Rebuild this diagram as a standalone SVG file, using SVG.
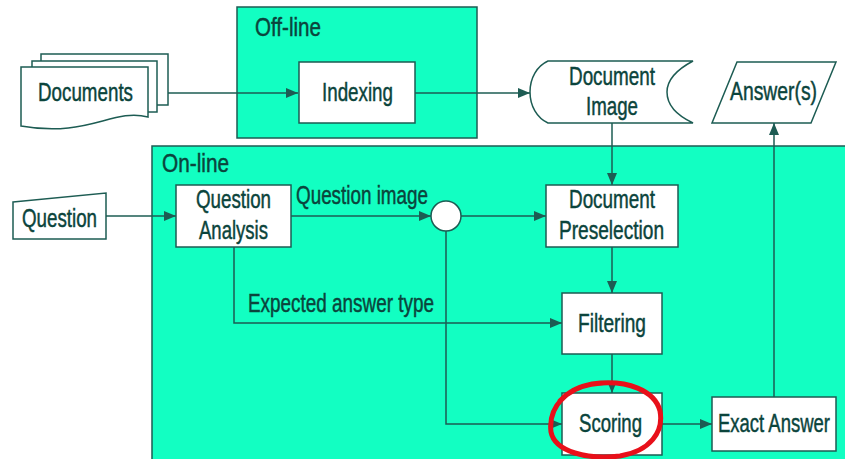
<svg xmlns="http://www.w3.org/2000/svg" width="845" height="459" viewBox="0 0 845 459">
  <style>
    .zone { fill: #12ffc2; stroke: #1d5c53; stroke-width: 1.5; }
    .box { fill: #ffffff; stroke: #1d5c53; stroke-width: 1.5; }
    .lbl { font-family: "Liberation Sans", Arial, sans-serif; font-size: 25px; fill: #0b443c; stroke: #0b443c; stroke-width: 0.45; }
    .wire { fill: none; stroke: #1d5c53; stroke-width: 1.5; }
    .mark { fill: none; stroke: #e8101a; stroke-width: 5; stroke-linecap: round; }
  </style>
  <defs>
    <marker id="arrow" viewBox="0 0 12 10" refX="12" refY="5" markerWidth="12" markerHeight="10" markerUnits="userSpaceOnUse" orient="auto">
      <path d="M0,0 L12,5 L0,10 Z" fill="#1d5c53"/>
    </marker>
  </defs>

  <!-- processing zones -->
  <g id="offline">
    <rect class="zone" x="237" y="7" width="240" height="131"/>
    <text class="lbl" x="255" y="36" textLength="66" lengthAdjust="spacingAndGlyphs">Off-line</text>
  </g>
  <g id="online">
    <rect class="zone" x="152" y="146" width="700" height="320"/>
    <text class="lbl" x="162" y="172" textLength="67" lengthAdjust="spacingAndGlyphs">On-line</text>
  </g>

  <!-- connectors -->
  <g id="connectors">
    <path class="wire" d="M168,93 H298" marker-end="url(#arrow)"/>
    <path class="wire" d="M415,93 H530" marker-end="url(#arrow)"/>
    <path class="wire" d="M612,123 V185" marker-end="url(#arrow)"/>
    <path class="wire" d="M106,216 H176" marker-end="url(#arrow)"/>
    <path class="wire" d="M291,216 H431" marker-end="url(#arrow)"/>
    <path class="wire" d="M461,216 H546" marker-end="url(#arrow)"/>
    <path class="wire" d="M612,247 V293" marker-end="url(#arrow)"/>
    <path class="wire" d="M234,247 V323 H562" marker-end="url(#arrow)"/>
    <path class="wire" d="M446,231 V424 H562" marker-end="url(#arrow)"/>
    <path class="wire" d="M612,354 V393" marker-end="url(#arrow)"/>
    <path class="wire" d="M662,424 H712" marker-end="url(#arrow)"/>
    <path class="wire" d="M774,397 V123" marker-end="url(#arrow)"/>
    <text class="lbl" x="296" y="204" textLength="132" lengthAdjust="spacingAndGlyphs">Question image</text>
    <text class="lbl" x="248" y="312" textLength="186" lengthAdjust="spacingAndGlyphs">Expected answer type</text>
  </g>

  <!-- nodes -->
  <g id="documents">
    <rect class="box" x="41" y="54" width="127" height="51"/>
    <rect class="box" x="32" y="61" width="125" height="51"/>
    <path class="box" d="M21,67 H148 V117 C112,108 88,138 21,126 Z"/>
    <text class="lbl" x="38" y="101" textLength="95" lengthAdjust="spacingAndGlyphs">Documents</text>
  </g>

  <g id="indexing">
    <rect class="box" x="299" y="62" width="116" height="61"/>
    <text class="lbl" x="322" y="101" textLength="71" lengthAdjust="spacingAndGlyphs">Indexing</text>
  </g>

  <g id="document-image">
    <path class="box" d="M548,61 H693 C676,70 667,81 667,92 C667,104 676,115 693,123 H548 C537,118 530,106 530,92 C530,78 537,66 548,61 Z"/>
    <text class="lbl" x="569" y="85" textLength="86" lengthAdjust="spacingAndGlyphs">Document</text>
    <text class="lbl" x="586" y="115" textLength="52" lengthAdjust="spacingAndGlyphs">Image</text>
  </g>

  <g id="answers">
    <path class="box" d="M737,62 H836 L811,123 H712 Z"/>
    <text class="lbl" x="730" y="100" textLength="87" lengthAdjust="spacingAndGlyphs">Answer(s)</text>
  </g>

  <g id="question">
    <path class="box" d="M13,202 L106,193 V239 H13 Z"/>
    <text class="lbl" x="22" y="227" textLength="75" lengthAdjust="spacingAndGlyphs">Question</text>
  </g>

  <g id="question-analysis">
    <rect class="box" x="176" y="185" width="115" height="62"/>
    <text class="lbl" x="196" y="208" textLength="75" lengthAdjust="spacingAndGlyphs">Question</text>
    <text class="lbl" x="199" y="239" textLength="69" lengthAdjust="spacingAndGlyphs">Analysis</text>
  </g>

  <g id="junction">
    <circle class="box" cx="446" cy="216" r="15"/>
  </g>

  <g id="document-preselection">
    <rect class="box" x="546" y="185" width="132" height="62"/>
    <text class="lbl" x="569" y="208" textLength="86" lengthAdjust="spacingAndGlyphs">Document</text>
    <text class="lbl" x="559" y="239" textLength="105" lengthAdjust="spacingAndGlyphs">Preselection</text>
  </g>

  <g id="filtering">
    <rect class="box" x="562" y="293" width="100" height="61"/>
    <text class="lbl" x="578" y="332" textLength="68" lengthAdjust="spacingAndGlyphs">Filtering</text>
  </g>

  <g id="scoring">
    <rect class="box" x="562" y="393" width="100" height="62"/>
    <text class="lbl" x="579" y="432" textLength="63" lengthAdjust="spacingAndGlyphs">Scoring</text>
  </g>

  <g id="exact-answer">
    <rect class="box" x="712" y="397" width="124" height="54"/>
    <text class="lbl" text-anchor="middle" font-size="24" transform="translate(774,432) scale(0.74,1)">Exact Answer</text>
  </g>

  <!-- hand-drawn highlight around Scoring -->
  <path class="mark" d="M604,383 C566,384 548,408 551,432 C555,452 588,460 620,456 C650,451 664,432 660,411 C655,391 628,379 592,384 C576,387 566,394 560,401"/>
</svg>
